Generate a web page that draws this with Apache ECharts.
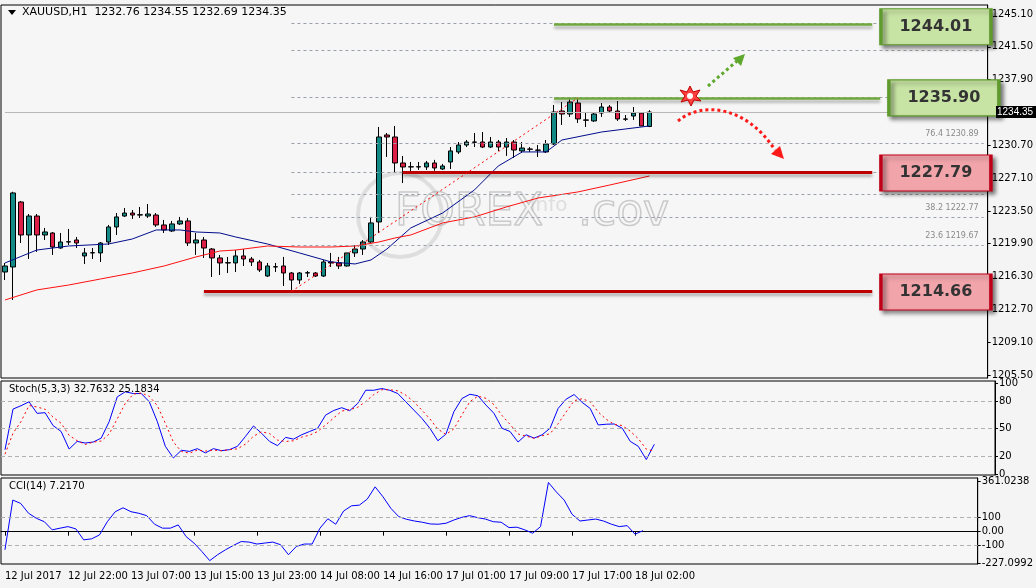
<!DOCTYPE html>
<html><head><meta charset="utf-8">
<script src="https://cdn.jsdelivr.net/npm/echarts@6/dist/echarts.min.js"></script>
<style>html,body{margin:0;padding:0;background:#f4f4f4}#c{width:1036px;height:588px}</style>
</head><body><div id="c"></div>
<script>
const timeLabels=['12 Jul 2017','12 Jul 22:00','13 Jul 07:00','13 Jul 15:00','13 Jul 23:00','14 Jul 08:00','14 Jul 16:00','17 Jul 01:00','17 Jul 09:00','17 Jul 17:00','18 Jul 02:00'];
const opens=[1216.80,1217.35,1224.48,1220.86,1222.94,1220.86,1221.08,1219.43,1220.09,1220.31,
1218.56,1218.89,1218.89,1220.09,1221.74,1222.94,1223.27,1223.05,1222.94,1223.05,
1221.96,1221.30,1222.07,1222.40,1219.98,1220.31,1219.32,1218.34,1217.79,1217.79,
1218.56,1218.23,1217.90,1216.36,1217.35,1217.46,1216.69,1215.92,1216.69,1216.69,
1216.36,1217.90,1217.79,1217.46,1218.89,1219.32,1220.09,1222.29,1231.83,1231.61,
1228.76,1228.32,1228.35,1228.32,1228.76,1228.10,1228.87,1229.97,1230.73,1231.06,
1231.06,1230.51,1231.06,1230.51,1231.06,1230.08,1230.29,1230.18,1229.97,1230.84,
1234.46,1234.13,1235.34,1233.48,1233.37,1234.24,1234.90,1234.46,1233.59,1233.91,
1234.24,1232.76];
const closes=[1217.46,1225.47,1220.86,1222.94,1220.86,1221.19,1219.54,1220.09,1220.12,1219.98,
1218.89,1218.92,1219.98,1221.74,1222.84,1223.27,1223.05,1223.08,1223.16,1221.96,
1221.41,1222.07,1222.40,1219.98,1220.31,1219.43,1218.34,1217.79,1217.82,1218.56,
1218.23,1217.90,1217.02,1217.46,1217.38,1216.69,1215.92,1216.69,1216.72,1216.36,
1217.90,1217.79,1217.46,1218.89,1219.32,1220.09,1222.18,1231.61,1231.61,1228.76,
1228.32,1228.35,1228.32,1228.76,1228.21,1228.43,1230.08,1230.73,1231.06,1231.03,
1230.51,1231.06,1230.51,1231.06,1230.18,1230.40,1230.26,1230.15,1230.84,1234.35,
1234.13,1235.45,1233.59,1233.45,1234.13,1234.90,1234.46,1233.59,1233.56,1234.24,
1232.82,1234.35];
const highs=[1217.79,1225.60,1224.59,1223.16,1223.16,1221.63,1221.19,1221.08,1221.52,1220.64,
1219.43,1219.43,1220.09,1221.96,1223.27,1223.82,1223.60,1223.93,1224.26,1223.27,
1222.51,1222.40,1222.84,1222.73,1221.08,1220.64,1219.43,1218.67,1218.45,1219.21,
1219.32,1218.45,1218.12,1217.79,1217.79,1218.45,1216.80,1216.80,1216.91,1216.80,
1218.12,1218.89,1218.45,1218.89,1219.76,1220.31,1222.84,1232.71,1232.05,1232.82,
1229.53,1228.87,1228.87,1228.98,1229.10,1228.65,1230.51,1231.06,1231.28,1232.05,
1232.16,1231.61,1231.28,1231.50,1231.28,1231.06,1230.51,1230.73,1231.28,1235.12,
1235.45,1235.89,1235.89,1234.24,1234.35,1235.34,1235.12,1235.56,1234.02,1234.90,
1234.35,1234.55];
const lows=[1215.92,1213.73,1219.98,1218.23,1219.00,1220.31,1218.67,1219.35,1219.76,1219.43,
1217.68,1218.23,1217.90,1219.76,1220.86,1222.84,1222.62,1222.73,1222.73,1221.74,
1221.08,1221.19,1221.96,1219.65,1218.67,1218.34,1216.25,1216.47,1216.69,1216.80,
1217.46,1217.46,1216.80,1216.25,1216.80,1215.27,1214.83,1215.49,1216.25,1216.25,
1216.25,1217.35,1217.13,1217.40,1218.45,1218.67,1220.00,1221.08,1229.42,1227.66,
1226.56,1227.55,1228.00,1228.00,1227.90,1228.00,1228.10,1229.75,1230.51,1230.51,
1230.40,1230.40,1230.08,1229.53,1229.31,1229.86,1229.97,1229.42,1229.86,1230.73,
1232.93,1233.81,1233.15,1232.71,1233.26,1233.81,1234.24,1233.37,1233.37,1233.48,
1232.82,1232.69];
const blueMA=[[0,1217.79],[4,1219.21],[8,1219.65],[13,1219.87],[16,1220.42],[19,1221.41],[22,1221.41],[24,1221.19],[27,1221.08],[29,1220.64],[33,1219.87],[37,1218.89],[41,1217.90],[44,1217.68],[46,1218.12],[48,1219.32],[51,1221.63],[55,1223.27],[59,1225.8],[62,1228.43],[65,1229.97],[68,1229.97],[70,1231.28],[75,1232.16],[81,1232.82]];
const redMA=[[0,1213.73],[4,1214.83],[8,1215.37],[12,1216.03],[16,1216.69],[20,1217.46],[24,1218.45],[27,1219.1],[29,1219.21],[33,1219.65],[37,1219.54],[41,1219.54],[44,1219.65],[47,1220.09],[49,1220.53],[51,1220.86],[55,1222.18],[59,1222.84],[63,1223.93],[67,1224.92],[72,1225.58],[76,1226.34],[81,1227.33]];
const stochK=[26.9,71.6,75.3,79.6,66.9,67.6,53.4,46.9,27.6,36,34.2,35.3,39.6,57.8,85,90.6,88.7,88.7,79.6,57.8,30.6,17.8,26.2,25,28,23.3,28,25.8,26.9,30.6,41.5,53,45,36,31.3,40.4,38.5,43.3,46.9,50.5,65,70,73.1,69.8,77.8,92.3,92.3,94.2,92.3,88.7,79.6,70.5,61.4,50.5,36.7,44,68.7,83.2,87.9,86.2,76,66.9,50.5,46.9,35.3,43.3,39.6,43.3,50.5,72.3,82.5,87.6,78.9,72.3,54.1,54.9,55.2,50.5,36,30.6,16,32.8];
const stochD=[22,45,57.9,75.5,73.9,71.4,62.6,56,42.6,36.8,32.6,35.2,36.4,44.2,60.8,77.8,88.1,89.3,85.7,75.4,56,35.4,24.9,23,26.4,25.4,26.4,25.7,26.9,27.8,33,41.7,46.5,44.7,37.4,35.9,36.7,40.7,42.9,46.9,54.1,61.8,69.4,71,73.6,80,87.5,92.9,92.9,91.7,86.9,79.6,70.5,60.8,49.5,43.7,49.8,65.3,79.9,85.8,83.4,76.4,64.5,54.8,44.2,41.8,39.4,42.1,44.5,55.4,68.4,80.8,83,79.6,68.4,60.4,54.7,53.5,47.2,39,27.5,25.2];
const cci=[-129,225,201,131,95,71,13,25,36,20,-58,-51,-23,71,142,170,142,131,114,53,25,25,48,-35,-81,-141,-206,-164,-129,-98,-70,-74,-88,-81,-74,-93,-164,-105,-88,-88,25,92,53,147,184,189,232,319,248,166,107,88,76,67,55,53,60,83,102,114,100,90,71,67,29,32,13,-11,36,350,283,225,124,76,83,90,76,53,36,43,-18,7.2];
const priceTicks=[1205.50,1209.10,1212.70,1216.30,1219.90,1223.50,1227.10,1230.70,1234.35,1237.90,1241.50,1245.10];
const stochTicks=[0,20,50,80,100];
const cciTicks=[-227.0992,-100,0,100,361.0238];
const fibLevels=[[1219.76,'23.6 1219.67'],[1222.84,'38.2 1222.77'],[1225.36,''],[1227.77,''],[1230.95,'76.4 1230.89'],[1236.0,''],[1241.15,''],[1244.11,'']];
const levelsGreen=[1244.01,1235.90];
const levelsRed=[1227.79,1214.66];
const lastPrice=1234.35;

const N=124;
const cats=[];for(let i=0;i<N;i++)cats.push(String(i));
const candles=opens.map((o,i)=>[o,closes[i],lows[i],highs[i]]);
const FF='DejaVu Sans';
const labInt=i=>i%8===0&&i/8<timeLabels.length;
function xa(idx,show){return {type:'category',gridIndex:idx,data:cats,boundaryGap:true,
 axisLine:{show:show,lineStyle:{color:'#000'}},axisTick:{show:show,interval:labInt,alignWithLabel:true,length:4,lineStyle:{color:'#000'}},
 axisLabel:{show:show,interval:labInt,formatter:(v,i)=>timeLabels[i/8],align:'left',margin:7,fontSize:10,fontFamily:FF,color:'#000'},splitLine:{show:false}};}
function ya(idx,min,max,ticks,fmt){return {type:'value',gridIndex:idx,position:'right',min:min,max:max,scale:true,
 axisLine:{show:true,lineStyle:{color:'#000'}},axisTick:{show:true,length:3,customValues:ticks,lineStyle:{color:'#000'}},
 axisLabel:{show:true,customValues:ticks,formatter:fmt,fontSize:10,fontFamily:FF,color:'#000',margin:4},splitLine:{show:false}};}
const gridStyle={show:true,backgroundColor:'#f6f6f6',borderColor:'#000',borderWidth:1};
const dashed={color:'#9aa0aa',type:[3,3],width:1};
const shadow={shadowColor:'rgba(0,0,0,0.3)',shadowBlur:3,shadowOffsetY:3};

const fibML=fibLevels.map(f=>[{coord:[36,f[0]],lineStyle:dashed,label:{show:!!f[1],formatter:f[1],position:'insideEndTop',color:'#8a8a8a',fontSize:8,fontFamily:FF}},{coord:[123,f[0]]}]);
const levelML=[
 [{coord:[69,levelsGreen[0]],lineStyle:Object.assign({color:'#6fa83d',width:2.5,type:'solid'},shadow)},{coord:[109,levelsGreen[0]]}],
 [{coord:[69,levelsGreen[1]],lineStyle:Object.assign({color:'#6fa83d',width:2.5,type:'solid'},shadow)},{coord:[110,levelsGreen[1]]}],
 [{coord:[50,levelsRed[0]],lineStyle:Object.assign({color:'#bf0000',width:3,type:'solid'},shadow)},{coord:[109,levelsRed[0]]}],
 [{coord:[25,levelsRed[1]],lineStyle:Object.assign({color:'#bf0000',width:3,type:'solid'},shadow)},{coord:[109,levelsRed[1]]}],
 [{coord:[0,lastPrice],lineStyle:{color:'#b8b8b8',width:1,type:'solid'}},{coord:[123,lastPrice]}],
 [{coord:[36,levelsRed[1]],lineStyle:{color:'#ff0000',width:1,type:[2,3]}},{coord:[72,levelsGreen[1]]}]
];
function box(x,p,txt,fill,border){return {coord:[x,p],value:txt,symbol:'rect',symbolSize:[110,36],
 itemStyle:{color:fill,borderColor:border,borderWidth:2,shadowColor:'rgba(0,0,0,0.45)',shadowBlur:4,shadowOffsetX:3,shadowOffsetY:3},
 label:{show:true,formatter:txt,color:'#333',fontSize:16,fontWeight:'bold',fontFamily:FF}};}

const chart=echarts.init(document.getElementById('c'));
chart.setOption({
 animation:false,backgroundColor:'#f4f4f4',
 grid:[Object.assign({left:1,right:41,top:5,height:373},gridStyle),
       Object.assign({left:1,right:41,top:381,height:94},gridStyle),
       Object.assign({left:1,right:41,top:478,height:86},gridStyle)],
 xAxis:[xa(0,false),xa(1,false),xa(2,true)],
 yAxis:[ya(0,1205.17,1246.09,priceTicks,v=>v.toFixed(2)),
        ya(1,-1,102.5,stochTicks,v=>String(v)),
        ya(2,-230,382,cciTicks,v=>v===0?'0.00':String(v))],
 series:[
  {type:'line',xAxisIndex:0,yAxisIndex:0,data:[],markLine:{silent:true,symbol:'none',animation:false,data:fibML}},
  {type:'candlestick',xAxisIndex:0,yAxisIndex:0,data:candles,barWidth:5,
   itemStyle:{color:'#138a85',color0:'#dc1f45',borderColor:'#000',borderColor0:'#000',borderWidth:1}},
  {type:'line',xAxisIndex:0,yAxisIndex:0,data:blueMA,symbol:'none',lineStyle:{color:'#000c8c',width:1}},
  {type:'line',xAxisIndex:0,yAxisIndex:0,data:redMA,symbol:'none',lineStyle:{color:'#ff1010',width:1}},
  {type:'line',xAxisIndex:0,yAxisIndex:0,data:[],markLine:{silent:true,symbol:'none',data:levelML},
   markPoint:{silent:true,data:[box(117,1243.7,'1244.01','#c8e4a4','#5e9a2c'),box(118,levelsGreen[1],'1235.90','#c8e4a4','#5e9a2c'),
     box(117,1227.66,'1227.79','#f1a4aa','#c00018'),box(117,1214.6,'1214.66','#f1a4aa','#c00018')]}},
  {type:'line',xAxisIndex:1,yAxisIndex:1,data:stochK,symbol:'none',lineStyle:{color:'#0000ff',width:1},
   markLine:{silent:true,symbol:'none',label:{show:false},lineStyle:{color:'#b0b0b0',type:[4,3],width:1},data:[{yAxis:80},{yAxis:50},{yAxis:20}]}},
  {type:'line',xAxisIndex:1,yAxisIndex:1,data:stochD,symbol:'none',lineStyle:{color:'#ff0000',width:1,type:[2,3]}},
  {type:'line',xAxisIndex:2,yAxisIndex:2,data:cci,symbol:'none',lineStyle:{color:'#0000ff',width:1},
   markLine:{silent:true,symbol:'none',label:{show:false},lineStyle:{color:'#b0b0b0',type:[4,3],width:1},data:[{yAxis:100},{yAxis:-100}]}}
 ]
});
const py=chart.convertToPixel({yAxisIndex:0},lastPrice);
chart.setOption({graphic:{elements:[
  {id:'ttl',type:'text',x:22,y:7,z:100,style:{text:'XAUUSD,H1  1232.76 1234.55 1232.69 1234.35',fontSize:11,fontFamily:FF,fill:'#000'}},
  {id:'tri',type:'polygon',z:100,shape:{points:[[8,10],[16,10],[12,15]]},style:{fill:'#000'}},
  {id:'stl',type:'text',x:9,y:384,z:100,style:{text:'Stoch(5,3,3) 32.7632 25.1834',fontSize:10,fontFamily:FF,fill:'#000'}},
  {id:'ccl',type:'text',x:9,y:481,z:100,style:{text:'CCI(14) 7.2170',fontSize:10,fontFamily:FF,fill:'#000'}},
  {id:'w1',type:'text',x:395,y:192,z:1,style:{text:'FOREX',fontSize:44,fontFamily:FF,fill:'rgba(0,0,0,0)',stroke:'rgba(120,120,120,0.35)',lineWidth:1.5}},
  {id:'w2',type:'text',x:530,y:196,z:1,style:{text:'info',fontSize:20,fontFamily:FF,fill:'rgba(150,150,150,0.25)'}},
  {id:'w3',type:'text',x:578,y:192,z:1,style:{text:'.cov',fontSize:44,fontFamily:FF,fill:'rgba(0,0,0,0)',stroke:'rgba(120,120,120,0.35)',lineWidth:1.5}},
  {id:'w4',type:'circle',z:1,shape:{cx:400,cy:215,r:42},style:{fill:'none',stroke:'rgba(150,150,150,0.25)',lineWidth:4}},
  {id:'a1',type:'line',z:100,shape:{x1:708,y1:86,x2:737,y2:61},style:{stroke:'#5ea82e',lineWidth:3,lineDash:[3,3]}},
  {id:'a2',type:'polygon',z:100,shape:{points:[[745,54],[733,58],[741,66]]},style:{fill:'#5ea82e'}},
  {id:'a3',type:'bezierCurve',z:100,shape:{x1:678,y1:121,cpx1:700,cpy1:102,cpx2:745,cpy2:104,x2:775,y2:150},style:{stroke:'#ff1a1a',lineWidth:3,lineDash:[3,3],fill:'none'}},
  {id:'a4',type:'polygon',z:100,shape:{points:[[784,159],[771,154],[780,146]]},style:{fill:'#ff1a1a'}},
  {id:'e1',type:'polygon',z:100,shape:{points:[[690,86],[693,92],[700,90],[696,96],[701,101],[694,100],[691,106],[688,100],[681,102],[685,96],[680,90],[687,92]]},style:{fill:'#ff4040',stroke:'#c00000',lineWidth:1}},
  {id:'e2',type:'circle',z:100,shape:{cx:690,cy:96,r:3},style:{fill:'#fff'}},
  {id:'pb',type:'rect',z:100,shape:{x:996,y:py-6,width:40,height:12},style:{fill:'#000'}},
  {id:'pt',type:'text',z:101,x:997,y:py-5,style:{text:lastPrice.toFixed(2),fill:'#fff',fontSize:10,fontFamily:'Liberation Sans'}}
]}});
</script></body></html>
